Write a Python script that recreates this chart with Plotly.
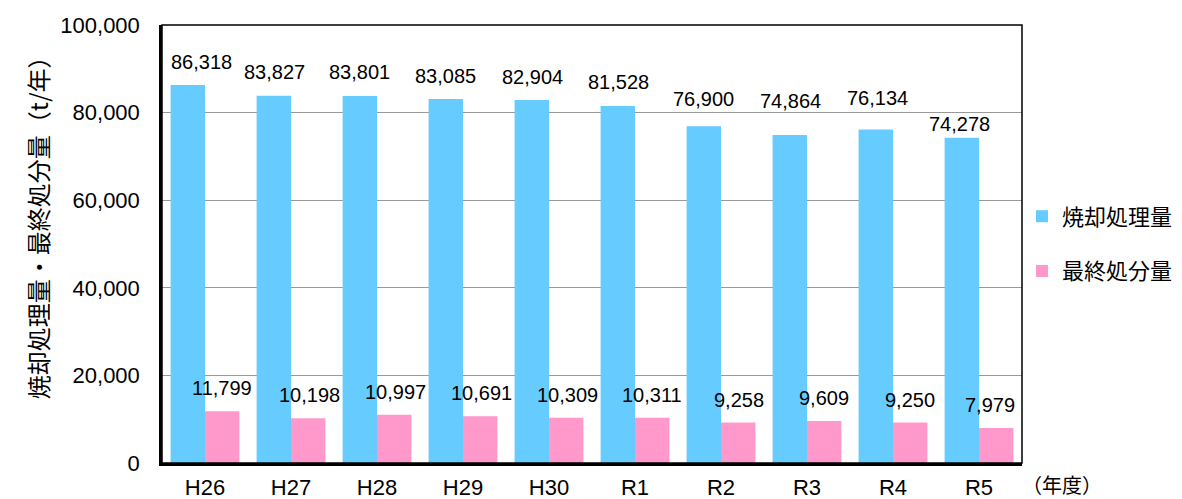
import plotly.graph_objects as go

years = ["H26", "H27", "H28", "H29", "H30", "R1", "R2", "R3", "R4", "R5"]
incineration = [86318, 83827, 83801, 83085, 82904, 81528, 76900, 74864, 76134, 74278]
final_disposal = [11799, 10198, 10997, 10691, 10309, 10311, 9258, 9609, 9250, 7979]
y_ticks = [0, 20000, 40000, 60000, 80000, 100000]

# label placement tweaks (pixels, relative to category centre / bar top)
blue_dx = [-4, -17, -18, -18, -17, -17, -18, -17, -16, -20]
blue_dy = [23, 24, 24, 23.5, 23, 24, 27, 34.5, 32, 14]
pink_dx = [17, 18, 18, 18, 18, 17, 18, 17, 17, 11]
pink_dy = [23, 23, 23, 23, 23, 23, 22.5, 23, 22.5, 23]

BLUE = "#66CCFF"
PINK = "#FF99CC"
FONT = "Arial, 'Liberation Sans', 'Noto Sans CJK JP', sans-serif"
CJK = "'Noto Sans CJK JP', sans-serif"

fig = go.Figure()
fig.add_trace(go.Bar(x=years, y=incineration, name="焼却処理量",
                     marker=dict(color=BLUE, line=dict(width=0)),
                     legendgroup="a"))
fig.add_trace(go.Bar(x=years, y=final_disposal, name="最終処分量",
                     marker=dict(color=PINK, line=dict(width=0)),
                     legendgroup="b"))

annotations = []
for i, yr in enumerate(years):
    annotations.append(dict(x=yr, y=incineration[i], xref="x", yref="y",
                            text=f"{incineration[i]:,}", showarrow=False,
                            xshift=blue_dx[i], yshift=blue_dy[i],
                            yanchor="middle", xanchor="center",
                            font=dict(family=FONT, size=20, color="#000")))
    annotations.append(dict(x=yr, y=final_disposal[i], xref="x", yref="y",
                            text=f"{final_disposal[i]:,}", showarrow=False,
                            xshift=pink_dx[i], yshift=pink_dy[i],
                            yanchor="middle", xanchor="center",
                            font=dict(family=FONT, size=20, color="#000")))

annotations.append(dict(x=1.0465, y=-0.048, xref="paper", yref="paper",
                        text="（年度）", showarrow=False, xanchor="center",
                        yanchor="middle",
                        font=dict(family=CJK, size=20, color="#000")))
annotations.append(dict(x=-0.1453, y=0.55, xref="paper", yref="paper",
                        text="焼却処理量・最終処分量（t/年）", textangle=-90,
                        showarrow=False, xanchor="center", yanchor="middle",
                        font=dict(family=CJK, size=24, color="#000")))

fig.update_layout(
    width=1174, height=491,
    margin=dict(l=154, r=160, t=17, b=36, autoexpand=False),
    paper_bgcolor="white", plot_bgcolor="white",
    barmode="group", bargap=0.2, bargroupgap=0,
    font=dict(family=FONT, size=22, color="#000"),
    legend=dict(x=1.0, y=0.5, xanchor="left", yanchor="middle",
                traceorder="grouped", tracegroupgap=23,
                font=dict(family=FONT, size=22, color="#000"),
                bgcolor="rgba(0,0,0,0)"),
    annotations=annotations,
    shapes=[dict(type="rect", xref="paper", yref="paper", x0=0, y0=0, x1=1, y1=1,
                 line=dict(color="#000", width=1.5), layer="above")],
)
fig.update_xaxes(showline=True, linecolor="#000", linewidth=2.5, ticks="",
                 ticklabelstandoff=3, tickfont=dict(size=22))
fig.update_yaxes(range=[0, 100000], tickvals=y_ticks,
                 ticktext=[f"{v:,}" for v in y_ticks],
                 showline=True, linecolor="#000", linewidth=2.5,
                 showgrid=True, gridcolor="#999999", gridwidth=1,
                 zeroline=False, ticks="", ticklabelstandoff=15,
                 tickfont=dict(size=22))

fig.write_html("out.html")
